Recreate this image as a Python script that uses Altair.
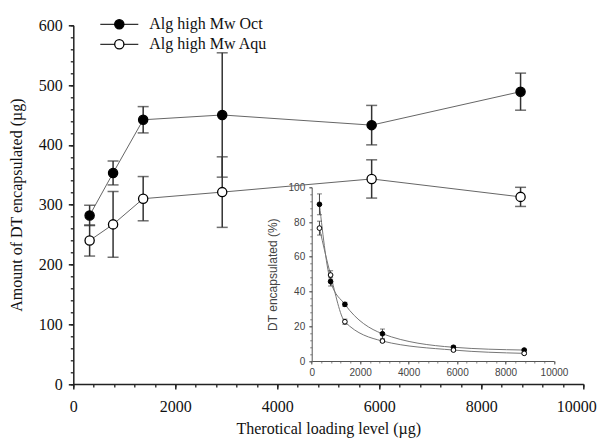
import altair as alt
import pandas as pd

# ---- data ----
series = ["Alg high Mw Oct", "Alg high Mw Aqu"]
loading = [320, 780, 1370, 2920, 5850, 8770]

oct_amount = [282, 353, 442, 450, 433, 489]
oct_amount_err = [17, 20, 22, 104, 33, 31]
aqu_amount = [240, 267, 310, 321, 343, 313]
aqu_amount_err = [26, 55, 37, 59, 32, 16]

oct_pct = [90.2, 45.7, 32.6, 15.7, 7.9, 6.3]
oct_pct_err = [6.0, 2.5, 1.2, 2.7, 0.8, 0.6]
aqu_pct = [76.5, 49.5, 22.6, 11.5, 6.3, 4.4]
aqu_pct_err = [4.0, 2.5, 1.5, 0.8, 0.6, 0.5]

main_x_ticks = [0, 2000, 4000, 6000, 8000, 10000]
main_y_ticks = [0, 100, 200, 300, 400, 500, 600]
inset_x_ticks = [0, 2000, 4000, 6000, 8000, 10000]
inset_y_ticks = [0, 20, 40, 60, 80, 100]

rows = []
for s, amt, ae, pct, pe in [
    (series[0], oct_amount, oct_amount_err, oct_pct, oct_pct_err),
    (series[1], aqu_amount, aqu_amount_err, aqu_pct, aqu_pct_err),
]:
    for i, x in enumerate(loading):
        rows.append(dict(series=s, x=x, amt=amt[i], amt_lo=amt[i] - ae[i], amt_hi=amt[i] + ae[i],
                         pct=pct[i], pct_lo=pct[i] - pe[i], pct_hi=pct[i] + pe[i]))
df = pd.DataFrame(rows)

SERIF = "Liberation Serif"
SANS = "Liberation Sans"

XM = alt.Scale(domain=[0, 10000], nice=False, zero=False)
YM = alt.Scale(domain=[0, 600], nice=False, zero=False)
XI = alt.Scale(domain=[0, 10000], range=[238.4, 480.7], nice=False, zero=False)
YI = alt.Scale(domain=[0, 100], range=[335.7, 162], nice=False, zero=False)
FILL = alt.Fill("series:N", scale=alt.Scale(domain=series, range=["#000000", "#ffffff"]), legend=None)

base = alt.Chart(df)

# ---------------- main chart ----------------
main_minor = base.mark_point(opacity=0).encode(
    x=alt.X("x:Q", scale=XM, axis=alt.Axis(values=list(range(0, 10001, 400)), labels=False, tickSize=3,
                                           tickWidth=1.3, tickColor="#222", domain=False, grid=False,
                                           title=None, orient="bottom")),
    y=alt.Y("amt:Q", scale=YM, axis=alt.Axis(values=list(range(0, 601, 20)), labels=False, tickSize=3,
                                             tickWidth=1.3, tickColor="#222", domain=False, grid=False,
                                             title=None, orient="left")),
)

# last x label, pulled inward so that it stays inside the page
main_last_label = base.mark_point(opacity=0).encode(
    x=alt.X("x:Q", scale=XM, axis=alt.Axis(values=[10000], format="d", tickSize=5, tickOpacity=0,
                                           domain=False, grid=False, labelFont=SERIF, labelFontSize=16,
                                           labelColor="#111", labelPadding=9, labelAlign="right",
                                           labelOffset=13, labelFlush=False, title=None,
                                           orient="bottom")),
)

main_line = base.mark_line(color="#666666", strokeWidth=1).encode(
    x=alt.X("x:Q", scale=XM, axis=alt.Axis(values=main_x_ticks, format="d", tickSize=5, tickWidth=1.5,
                                           labelExpr="datum.value == 10000 ? '' : datum.label",
                                           tickColor="#222", domainColor="#222", domainWidth=1.5, grid=False,
                                           labelFont=SERIF, labelFontSize=16, labelColor="#111",
                                           labelPadding=9, title="Therotical loading level (µg)",
                                           titleFont=SERIF, titleFontSize=16, titleFontWeight="normal",
                                           titleColor="#111", titlePadding=6, orient="bottom",
                                           labelFlush=False)),
    y=alt.Y("amt:Q", scale=YM, axis=alt.Axis(values=main_y_ticks, format="d", tickSize=5, tickWidth=1.5,
                                             tickColor="#222", domainColor="#222", domainWidth=1.5, grid=False,
                                             labelFont=SERIF, labelFontSize=16, labelColor="#111",
                                             labelPadding=6, title="Amount of DT encapsulated (µg)",
                                             titleFont=SERIF, titleFontSize=16, titleFontWeight="normal",
                                             titleColor="#111", titlePadding=14, orient="left")),
    detail="series:N",
)

main_err = base.mark_rule(color="#333333", strokeWidth=1.5).encode(
    x=alt.X("x:Q", scale=XM, axis=None),
    y=alt.Y("amt_lo:Q", scale=YM, axis=None),
    y2="amt_hi:Q",
)
main_cap_lo = base.mark_tick(orient="horizontal", size=11, thickness=1.5, color="#333333").encode(
    x=alt.X("x:Q", scale=XM, axis=None),
    y=alt.Y("amt_lo:Q", scale=YM, axis=None),
)
main_cap_hi = base.mark_tick(orient="horizontal", size=11, thickness=1.5, color="#333333").encode(
    x=alt.X("x:Q", scale=XM, axis=None),
    y=alt.Y("amt_hi:Q", scale=YM, axis=None),
)
main_pts = base.mark_point(shape="circle", size=85, stroke="#000000", strokeWidth=1.3,
                           fillOpacity=1, opacity=1).encode(
    x=alt.X("x:Q", scale=XM, axis=None),
    y=alt.Y("amt:Q", scale=YM, axis=None),
    fill=FILL,
)

# ---------------- inset ----------------
inset_minor = base.mark_point(opacity=0).encode(
    x=alt.X("x:Q", scale=XI, axis=alt.Axis(values=list(range(0, 10001, 400)), labels=False, tickSize=2,
                                           tickWidth=0.8, tickColor="#666", domain=False, grid=False,
                                           title=None, orient="bottom", offset=-23)),
    y=alt.Y("pct:Q", scale=YI, axis=alt.Axis(values=list(range(0, 101, 4)), labels=False, tickSize=2,
                                             tickWidth=0.8, tickColor="#666", domain=False, grid=False,
                                             title=None, orient="left", offset=-238.4)),
)

inset_line = base.mark_line(color="#777777", strokeWidth=1, interpolate="monotone").encode(
    x=alt.X("x:Q", scale=XI, axis=alt.Axis(values=inset_x_ticks, format="d", tickSize=3, tickWidth=1,
                                           tickColor="#555", domainColor="#555", domainWidth=1, grid=False,
                                           labelFont=SANS, labelFontSize=10, labelColor="#444",
                                           labelPadding=3, title=None, orient="bottom", offset=-23,
                                           labelFlush=False)),
    y=alt.Y("pct:Q", scale=YI, axis=alt.Axis(values=inset_y_ticks, format="d", tickSize=3, tickWidth=1,
                                             tickColor="#555", domainColor="#555", domainWidth=1, grid=False,
                                             labelFont=SANS, labelFontSize=10, labelColor="#444",
                                             labelPadding=4, title="DT encapsulated (%)",
                                             titleFont=SANS, titleFontSize=12, titleFontWeight="normal",
                                             titleColor="#444", titlePadding=9, orient="left",
                                             offset=-238.4)),
    detail="series:N",
)
inset_err = base.mark_rule(color="#444444", strokeWidth=1).encode(
    x=alt.X("x:Q", scale=XI, axis=None),
    y=alt.Y("pct_lo:Q", scale=YI, axis=None),
    y2="pct_hi:Q",
)
inset_cap_lo = base.mark_tick(orient="horizontal", size=5, thickness=1, color="#444444").encode(
    x=alt.X("x:Q", scale=XI, axis=None),
    y=alt.Y("pct_lo:Q", scale=YI, axis=None),
)
inset_cap_hi = base.mark_tick(orient="horizontal", size=5, thickness=1, color="#444444").encode(
    x=alt.X("x:Q", scale=XI, axis=None),
    y=alt.Y("pct_hi:Q", scale=YI, axis=None),
)
inset_pts = base.mark_point(shape="circle", size=22, stroke="#000000", strokeWidth=1,
                            fillOpacity=1, opacity=1).encode(
    x=alt.X("x:Q", scale=XI, axis=None),
    y=alt.Y("pct:Q", scale=YI, axis=None),
    fill=FILL,
)

# ---------------- legend ----------------
legend_layers = []
for i, s in enumerate(series):
    ly = -1 + 20 * i
    ldf = pd.DataFrame({"series": [s]})
    lb = alt.Chart(ldf)
    legend_layers.append(lb.mark_rule(color="#333333", strokeWidth=1.3).encode(
        x=alt.value(27), x2=alt.value(65), y=alt.value(ly)))
    legend_layers.append(lb.mark_point(shape="circle", size=85, stroke="#000000", strokeWidth=1.3,
                                       fillOpacity=1, opacity=1).encode(
        x=alt.value(46), y=alt.value(ly), fill=FILL))
    legend_layers.append(lb.mark_text(align="left", baseline="middle", font=SERIF, fontSize=16,
                                      color="#111111").encode(
        x=alt.value(76), y=alt.value(ly), text="series:N"))

chart = alt.layer(
    main_minor, main_last_label, main_line, main_err, main_cap_lo, main_cap_hi, main_pts,
    inset_minor, inset_line, inset_err, inset_cap_lo, inset_cap_hi, inset_pts,
    *legend_layers,
).resolve_scale(x="independent", y="independent").properties(
    width=510, height=358.7,
    padding={"left": 65.3, "top": 17.3, "right": 13.7, "bottom": 55},
    autosize=alt.AutoSizeParams(type="none"),
    background="white",
).configure_view(stroke=None)

chart.save("out.html", embed_options={"renderer": "svg", "actions": False})
